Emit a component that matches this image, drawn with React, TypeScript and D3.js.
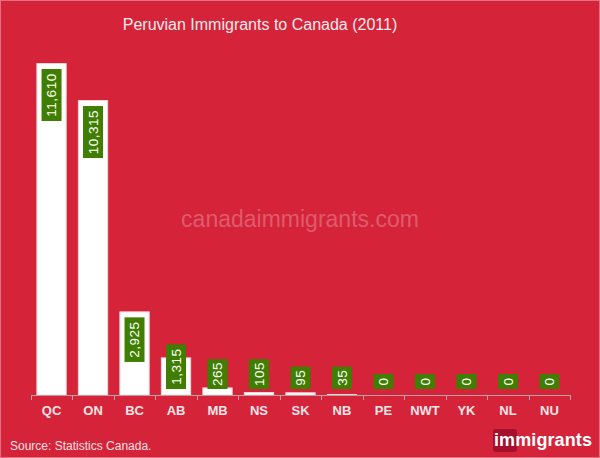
import React, { useEffect } from "react";
import * as d3 from "d3";

const categories = ["QC", "ON", "BC", "AB", "MB", "NS", "SK", "NB", "PE", "NWT", "YK", "NL", "NU"];
const values = [11610, 10315, 2925, 1315, 265, 105, 95, 35, 0, 0, 0, 0, 0];
const title = "Peruvian Immigrants to Canada (2011)";
const source = "Source: Statistics Canada.";
const watermark = "canadaimmigrants.com";

const W = 600;
const H = 458;
const BG = "#d5233a";
const GREEN = "#3f7e00";
const FONT = "'Liberation Sans', Arial, Helvetica, sans-serif";

export default function App() {
  useEffect(() => {
    document.body.style.margin = "0";
  }, []);

  const x = d3.scaleBand<string>().domain(categories).range([31, 570]).paddingInner(0.27).paddingOuter(0.13);
  const y = d3.scaleLinear().domain([0, 11610]).range([395, 63]);
  const fmt = d3.format(",");
  const baseY = y(0);

  return (
    <svg width={W} height={H} style={{ display: "block", position: "absolute", left: 0, top: 0 }} fontFamily={FONT}>
      <rect x={0} y={0} width={W} height={H} fill={BG} />
      <rect x={0.5} y={0.5} width={W - 1} height={H - 1} fill="none" stroke="#e27080" strokeWidth={1} />
      <text x={260} y={30} textAnchor="middle" fontSize={16} fill="#fbeaec">{title}</text>
      <text x={300} y={227} textAnchor="middle" fontSize={23} fill="#ffffff" fillOpacity={0.26}>{watermark}</text>

      {categories.map((c, i) => {
        const v = values[i];
        const bx = x(c)!;
        const bw = x.bandwidth();
        const top = y(v);
        return v > 0 ? (
          <rect key={"b" + c} x={bx + 0.5} y={top + 0.5} width={bw - 1} height={baseY - top - 0.5} fill="#ffffff" stroke="#f3d3d6" strokeWidth={1} />
        ) : null;
      })}

      <line x1={31} x2={570} y1={baseY + 0.5} y2={baseY + 0.5} stroke="#b9a2a6" strokeWidth={1} />
      {d3.range(categories.length + 1).map((i) => {
        const tx = Math.round(31 + (i * (570 - 31)) / categories.length) + 0.5;
        return <line key={"t" + i} x1={tx} x2={tx} y1={baseY} y2={baseY + 5} stroke="#b9a2a6" strokeWidth={1} />;
      })}

      {categories.map((c) => {
        const cx = x(c)! + x.bandwidth() / 2;
        return (
          <text key={"l" + c} x={cx} y={415} textAnchor="middle" fontSize={13} fontWeight="bold" fill="#f7e4e6">{c}</text>
        );
      })}

      {categories.map((c, i) => {
        const v = values[i];
        const label = fmt(v);
        const len = 7.4 * label.length + 7.6;
        const cx = x(c)! + x.bandwidth() / 2;
        const top = Math.min(y(v) + 6, baseY - 6 - len);
        const cy = top + len / 2;
        return (
          <g key={"d" + c}>
            <rect x={cx - 10} y={top} width={20} height={len} fill={GREEN} />
            <text x={0} y={0} transform={`translate(${cx + 4.7},${cy}) rotate(-90)`} textAnchor="middle" fontSize={13.5} fill="#ffffff" letterSpacing={0.5}>{label}</text>
          </g>
        );
      })}

      <text x={10} y={450} fontSize={12} fill="#f7e1e4">{source}</text>

      <rect x={493} y={429} width={24} height={23} rx={3} fill="#a5102c" />
      <text x={494} y={446} fontSize={18} fontWeight="bold" fill="#ffffff" letterSpacing={0.1}>im<tspan>migrants</tspan></text>
    </svg>
  );
}
